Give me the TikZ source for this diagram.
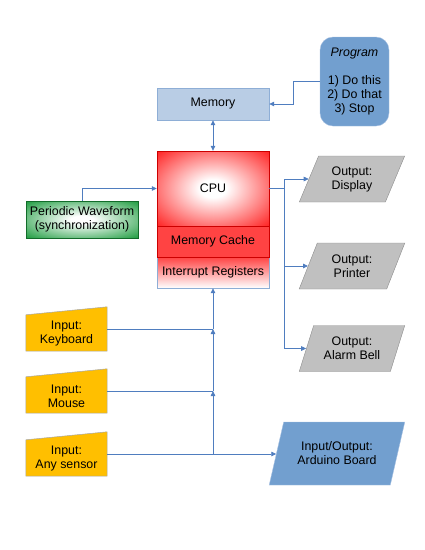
\documentclass[tikz,border=0pt]{standalone}
\usepackage{fontspec}
\setmainfont{Liberation Sans}
\usetikzlibrary{arrows.meta}
\usetikzlibrary{shapes.geometric}
\usetikzlibrary{backgrounds}
\definecolor{wireblue}{HTML}{4F7DBF}
\definecolor{memfill}{HTML}{B9CDE5}
\definecolor{memline}{HTML}{8EAED6}
\definecolor{progfill}{HTML}{729FCF}
\definecolor{progline}{HTML}{A7C1E3}
\definecolor{outfill}{HTML}{C0C0C0}
\definecolor{outgray}{HTML}{8C8C8C}
\definecolor{infill}{HTML}{FFBF00}
\definecolor{ingray}{HTML}{A6A6A6}
\definecolor{cpured}{HTML}{FF0000}
\definecolor{cachered}{HTML}{FF4343}
\definecolor{wavegreen}{HTML}{1A9A3C}
\pgfdeclareradialshading{cpuglow}{\pgfpoint{0bp}{0bp}}{color(0bp)=(white); color(6bp)=(white); color(40bp)=(cpured); color(71bp)=(cpured)}
\pgfdeclareradialshading{waveglow}{\pgfpoint{0bp}{0bp}}{color(0bp)=(white); color(5bp)=(white); color(36bp)=(wavegreen); color(71bp)=(wavegreen)}

\begin{document}
\begin{tikzpicture}[x=1pt, y=-1pt, >={Triangle[length=5pt,width=4.5pt]}, font=\fontsize{12.4}{14}\selectfont] % 1pt = 1px
  \tikzstyle{wire}=[draw=wireblue, line width=0.8pt]
  \tikzstyle{block}=[rectangle, inner sep=0pt, align=center, text=black]
  \tikzstyle{membox}=[block, minimum width=112, minimum height=32, fill=memfill, draw=memline]
  \tikzstyle{progbox}=[block, minimum width=69, minimum height=89, rounded corners=13pt, fill=progfill, draw=progline]
  \tikzstyle{cpubox}=[block, minimum width=112, draw=red!80!black, line width=0.4pt]
  \tikzstyle{wavebox}=[block, minimum width=112, minimum height=37, shading=waveglow, draw=wavegreen!70!black, line width=0.4pt]
  \tikzstyle{outbox}=[trapezium, trapezium left angle=65, trapezium right angle=115, trapezium stretches=true, inner sep=0pt, align=center, minimum width=106, minimum height=46, fill=outfill, draw=outgray]
  \tikzstyle{inbox}=[block, minimum width=81, minimum height=34]

  \useasboundingbox (0,0) rectangle (425,550);

	\node[membox]  (mem)  at (213,104)   {Memory};
	\node[progbox] (prog) at (354.5,81.5) {\textit{Program}\\[14pt]1) Do this\\2) Do that\\3) Stop};

	\node[cpubox, minimum height=31, top color=cachered, bottom color=white, draw=memline] (intr) at (213,272.5) {Interrupt Registers};
	\node[cpubox, minimum height=31, fill=cachered] (cache) at (213,241.5) {Memory Cache};
	\node[cpubox, minimum height=75, shading=cpuglow] (cpu) at (213,188.5) {CPU};

	\node[wavebox] (wave) at (82,219.5) {Periodic Waveform\\(synchronization)};

	\node[outbox] (disp)  at (352,179)   {Output:\\Display};
	\node[outbox] (prnt)  at (352,266)   {Output:\\Printer};
	\node[outbox] (alarm) at (352,348.5) {Output:\\Alarm Bell};
	\node[outbox, minimum width=136, minimum height=63, fill=progfill, draw=progline] (ard) at (337,453.5) {Input/Output:\\Arduino Board};

	\node[inbox] (kbd)    at (66.5,334) {Input:\\Keyboard};
	\node[inbox] (mouse)  at (66.5,396) {Input:\\Mouse};
	\node[inbox] (sensor) at (66.5,459) {Input:\\Any sensor};

	\begin{scope}[on background layer]
		\foreach \n in {kbd,mouse,sensor}
			\filldraw[fill=infill, draw=ingray, line width=0.5pt] (\n.south west) -- ([yshift=2pt]\n.north west) -- ([yshift=10pt]\n.north east) -- (\n.south east) -- cycle;
	\end{scope}

	% memory, program, clock
	\draw[wire, <->] (mem.south) -- (cpu.north);
	\draw[wire, ->] (prog.west) -- ++(-26,0) |- (mem.east);
	\draw[wire, ->] (wave.north) |- (cpu.west);

	% outputs
	\draw[wire] (cpu.east) -- ++(15,0) coordinate (jo);
	\draw[wire] (jo |- disp.west) -- (jo |- alarm.west);
	\foreach \n in {disp,prnt,alarm}
		\draw[wire, ->] (jo |- \n.west) -- (\n.west);

	% inputs
	\foreach \n in {kbd,mouse,sensor}
		\draw[wire] ([yshift=5pt]\n.east) coordinate (\n-j) -- (\n-j -| intr.south);
	\draw[wire, ->] (sensor-j -| intr.south) -- (mouse-j -| intr.south);
	\draw[wire, ->] (mouse-j -| intr.south) -- (kbd-j -| intr.south);
	\draw[wire, ->] (kbd-j -| intr.south) -- (intr.south);
	\draw[wire, ->] (sensor-j -| intr.south) -- (sensor-j -| ard.west);

\end{tikzpicture}
\end{document}
